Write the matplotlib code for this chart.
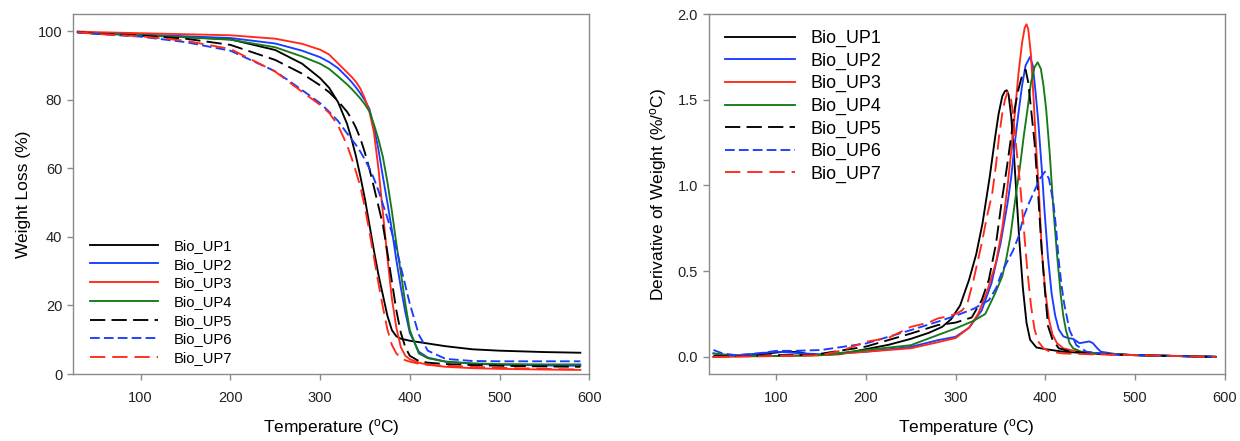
import matplotlib
matplotlib.use("Agg")
import matplotlib.pyplot as plt
from matplotlib.ticker import FormatStrFormatter

plt.rcParams['font.family'] = ['Liberation Sans', 'DejaVu Sans']
plt.rcParams['mathtext.fontset'] = 'custom'
plt.rcParams['mathtext.rm'] = 'Liberation Sans'
plt.rcParams['lines.scale_dashes'] = False

# ---------------- TGA data (weight %, shared temperature grid) ----------------
tga_temp = [30, 50, 100, 150, 200, 250, 280, 300, 310, 320, 330, 335, 340, 345, 350,
            355, 360, 365, 370, 375, 380, 385, 390, 395, 400, 410, 420, 440, 470,
            500, 550, 590]
tga_up1 = [99.8, 99.4, 98.8, 98.3, 97.6, 94.5, 90.5, 86.3, 83.5, 79.3, 73.0, 68.6,
           63.5, 57.5, 51.0, 43.5, 36.0, 29.0, 23.0, 17.0, 12.8, 11.0, 10.3, 10.0,
           9.7, 9.3, 8.9, 8.1, 7.2, 6.8, 6.4, 6.2]
tga_up2 = [99.8, 99.5, 99.0, 98.5, 98.0, 96.4, 94.3, 92.4, 91.0, 89.2, 86.6, 85.2,
           83.6, 81.8, 79.8, 77.3, 72.0, 65.5, 57.5, 50.0, 42.0, 33.2, 25.2, 18.0,
           12.0, 6.5, 4.8, 3.6, 3.0, 2.7, 2.5, 2.4]
tga_up3 = [99.9, 99.7, 99.4, 99.1, 98.8, 97.8, 96.3, 94.6, 93.2, 90.6, 88.0, 86.7,
           85.2, 83.2, 80.3, 76.5, 70.5, 60.0, 47.0, 34.0, 22.0, 13.5, 7.8, 5.3,
           4.3, 3.3, 2.7, 2.1, 1.7, 1.5, 1.3, 1.2]
tga_up4 = [99.6, 99.3, 98.8, 98.2, 97.5, 95.3, 92.6, 90.5, 89.0, 86.8, 84.5, 83.2,
           81.8, 80.3, 78.6, 76.6, 72.8, 68.5, 63.3, 56.0, 47.5, 38.0, 29.5, 20.5,
           12.8, 6.0, 4.6, 3.6, 3.1, 2.9, 2.8, 2.8]
tga_up5 = [99.7, 99.3, 98.7, 97.8, 96.0, 91.6, 87.6, 84.2, 82.2, 79.6, 76.5, 74.4,
           71.8, 68.6, 64.5, 59.8, 54.5, 49.0, 43.5, 35.5, 27.0, 18.5, 12.0, 7.8,
           5.3, 3.8, 3.3, 2.9, 2.6, 2.4, 2.2, 2.1]
tga_up6 = [99.6, 99.2, 98.4, 96.8, 94.3, 88.3, 82.8, 79.0, 76.5, 73.8, 70.2, 68.5,
           66.8, 64.8, 62.5, 60.0, 57.0, 53.5, 49.5, 45.5, 41.2, 36.5, 31.2, 25.8,
           20.5, 11.5, 6.8, 4.4, 3.8, 3.7, 3.7, 3.7]
tga_up7 = [99.7, 99.2, 98.5, 97.2, 94.8, 88.2, 82.3, 78.5, 76.2, 72.5, 66.8, 63.1,
           59.0, 54.5, 48.5, 41.5, 34.0, 26.5, 19.5, 13.0, 8.5, 6.0, 4.7, 4.0,
           3.6, 3.0, 2.7, 2.4, 2.1, 1.8, 1.5, 1.3]

# ---------------- DTG data (%/°C) ----------------
dtg_t1 = [30, 60, 90, 110, 125, 140, 170, 200, 225, 250, 270, 285, 295, 305, 315,
          323, 330, 338, 344, 348, 352, 355, 357, 359, 362, 365, 368, 371, 375, 379,
          383, 390, 400, 420, 450, 500, 550, 590]
dtg_v1 = [0.0, 0.005, 0.02, 0.03, 0.028, 0.01, 0.015, 0.045, 0.07, 0.105, 0.14,
          0.175, 0.22, 0.3, 0.45, 0.6, 0.78, 1.05, 1.28, 1.42, 1.52, 1.55, 1.555,
          1.53, 1.4, 1.18, 0.93, 0.68, 0.4, 0.2, 0.1, 0.055, 0.045, 0.03, 0.02,
          0.01, 0.005, 0.0]
dtg_t2 = [30, 40, 60, 100, 130, 150, 200, 250, 280, 300, 315, 329, 340, 350, 358,
          362, 366, 370, 374, 378, 383, 386, 389, 392, 396, 399, 403, 407, 411, 415,
          420, 425, 431, 438, 444, 449, 453, 458, 462, 480, 500, 590]
dtg_v2 = [0.02, 0.01, 0.01, 0.03, 0.02, 0.015, 0.03, 0.058, 0.097, 0.117, 0.17,
          0.27, 0.43, 0.66, 0.9, 1.05, 1.25, 1.42, 1.58, 1.7, 1.75, 1.7, 1.55,
          1.38, 1.1, 0.86, 0.58, 0.37, 0.24, 0.16, 0.12, 0.11, 0.105, 0.08, 0.085,
          0.09, 0.08, 0.05, 0.03, 0.015, 0.01, 0.0]
dtg_t3 = [30, 100, 150, 200, 250, 280, 300, 315, 325, 335, 345, 352, 358, 362, 366,
          370, 374, 377, 379, 381, 384, 387, 390, 393, 396, 400, 404, 408, 413, 420,
          440, 500, 590]
dtg_v3 = [0.0, 0.005, 0.01, 0.03, 0.05, 0.085, 0.11, 0.17, 0.25, 0.38, 0.55, 0.75,
          1.0, 1.2, 1.42, 1.65, 1.83, 1.92, 1.94, 1.91, 1.76, 1.5, 1.2, 0.95, 0.62,
          0.38, 0.22, 0.13, 0.08, 0.05, 0.025, 0.01, 0.0]
dtg_t4 = [30, 60, 100, 150, 200, 250, 280, 300, 320, 333, 344, 352, 356, 361, 366,
          372, 376, 380, 384, 388, 391.5, 395, 398, 401, 405, 409, 413, 417, 420,
          423, 427, 431, 440, 460, 500, 590]
dtg_v4 = [0.02, 0.005, 0.005, 0.01, 0.04, 0.068, 0.127, 0.166, 0.21, 0.25, 0.37,
          0.47, 0.56, 0.7, 0.9, 1.12, 1.29, 1.44, 1.6, 1.69, 1.718, 1.68, 1.58,
          1.44, 1.18, 0.86, 0.6, 0.37, 0.24, 0.156, 0.08, 0.05, 0.03, 0.02, 0.01,
          0.0]
dtg_t5 = [30, 60, 100, 120, 140, 200, 250, 280, 300, 318, 329, 337, 345, 352, 357,
          362, 366, 370, 374, 378, 381, 384, 388, 392, 395.5, 399, 403, 408, 415,
          425, 440, 470, 500, 590]
dtg_v5 = [0.005, 0.005, 0.01, 0.01, 0.01, 0.06, 0.136, 0.185, 0.2, 0.23, 0.33,
          0.45, 0.66, 0.93, 1.1, 1.29, 1.45, 1.56, 1.64, 1.675, 1.6, 1.45, 1.25,
          0.95, 0.66, 0.42, 0.18, 0.1, 0.05, 0.035, 0.025, 0.015, 0.01, 0.0]
dtg_t6 = [30, 40, 55, 80, 100, 120, 150, 200, 250, 280, 300, 320, 330, 337, 345,
          352, 358, 364, 370, 376, 382, 388, 394, 399.5, 404, 409, 412, 415, 418,
          421, 427, 434.6, 446, 470, 500, 590]
dtg_v6 = [0.04, 0.02, 0.01, 0.02, 0.035, 0.035, 0.04, 0.078, 0.156, 0.205, 0.24,
          0.28, 0.31, 0.33, 0.4, 0.5, 0.56, 0.62, 0.7, 0.82, 0.9, 0.97, 1.04, 1.08,
          1.04, 0.9, 0.75, 0.56, 0.42, 0.31, 0.156, 0.068, 0.03, 0.015, 0.01, 0.0]
dtg_t7 = [30, 100, 150, 175, 200, 225, 250, 270, 280, 290, 300, 307, 313, 320, 329,
          335, 340.7, 345, 348.5, 352, 355, 358, 361, 364, 368, 372, 376, 380, 384,
          388, 392, 398, 405, 420, 450, 500, 590]
dtg_v7 = [0.0, 0.005, 0.01, 0.04, 0.088, 0.11, 0.175, 0.2, 0.224, 0.235, 0.25,
          0.27, 0.31, 0.45, 0.66, 0.82, 0.95, 1.12, 1.29, 1.42, 1.5, 1.545, 1.53,
          1.42, 1.2, 1.0, 0.75, 0.5, 0.3, 0.16, 0.09, 0.05, 0.03, 0.02, 0.015,
          0.01, 0.0]

labels = ['Bio_UP1', 'Bio_UP2', 'Bio_UP3', 'Bio_UP4', 'Bio_UP5', 'Bio_UP6', 'Bio_UP7']
x_ticks = [100, 200, 300, 400, 500, 600]
tga_ticks = [0, 20, 40, 60, 80, 100]
dtg_ticks = [0.0, 0.5, 1.0, 1.5, 2.0]

BLACK, BLUE, RED, GREEN = '#000000', '#1a3cff', '#ff2a1a', '#167a16'
styles = [
    dict(color=BLACK, linestyle='-'),
    dict(color=BLUE, linestyle='-'),
    dict(color=RED, linestyle='-'),
    dict(color=GREEN, linestyle='-'),
    dict(color=BLACK, dashes=(11, 4.5)),
    dict(color=BLUE, dashes=(7, 3)),
    dict(color=RED, dashes=(11, 5)),
]
LW = 1.35
SPINE = '#8a8a8a'

fig = plt.figure(figsize=(12.4, 4.41), dpi=100)
ax1 = fig.add_axes([73.3 / 1240, 67 / 441, 516 / 1240, 360 / 441])
ax2 = fig.add_axes([709 / 1240, 67 / 441, 515.7 / 1240, 360 / 441])

tga_sets = [tga_up1, tga_up2, tga_up3, tga_up4, tga_up5, tga_up6, tga_up7]
for vals, lab, st in zip(tga_sets, labels, styles):
    ax1.plot(tga_temp, vals, lw=LW, label=lab, **st)

dtg_sets = [(dtg_t1, dtg_v1), (dtg_t2, dtg_v2), (dtg_t3, dtg_v3), (dtg_t4, dtg_v4),
            (dtg_t5, dtg_v5), (dtg_t6, dtg_v6), (dtg_t7, dtg_v7)]
for (tt, vv), lab, st in zip(dtg_sets, labels, styles):
    ax2.plot(tt, vv, lw=LW, label=lab, **st)

for ax in (ax1, ax2):
    ax.set_xlim(25, 600)
    ax.set_xticks(x_ticks)
    for s in ax.spines.values():
        s.set_color(SPINE)
        s.set_linewidth(1.0)
    ax.tick_params(axis='both', direction='out', length=4, width=1.0, color=SPINE,
                   labelsize=10.5, labelcolor='#222222', pad=4)
    ax.tick_params(axis='x', pad=8)
    ax.set_xlabel(r'Temperature ($\mathregular{^{o}}$C)', fontsize=12.5, labelpad=9)

ax1.set_ylim(0, 105)
ax1.set_yticks(tga_ticks)
ax1.set_ylabel('Weight Loss (%)', fontsize=12.5, labelpad=5)

ax2.set_ylim(-0.1, 2.0)
ax2.set_yticks(dtg_ticks)
ax2.yaxis.set_major_formatter(FormatStrFormatter('%.1f'))
ax2.set_ylabel(r'Derivative of Weight (%/$\mathregular{^{o}}$C)', fontsize=12.5, labelpad=6)

ax1.legend(loc='lower left', bbox_to_anchor=(0.015, 0.0), frameon=False,
           fontsize=10.6, handlelength=4.6, handletextpad=1.1, labelspacing=0.32,
           borderaxespad=0.2)
ax2.legend(loc='upper left', bbox_to_anchor=(0.01, 0.985), frameon=False,
           fontsize=12.9, handlelength=3.9, handletextpad=0.9, labelspacing=0.3,
           borderaxespad=0.2)

fig.savefig('out.png', dpi=100)
